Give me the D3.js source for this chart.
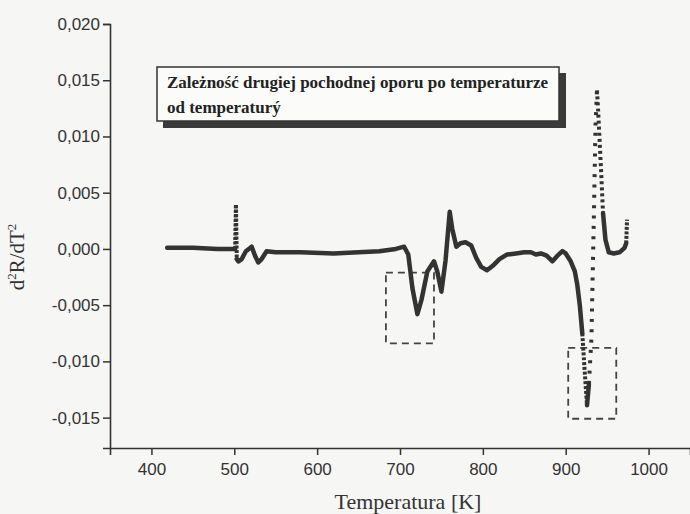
<!DOCTYPE html>
<html>
<head>
<meta charset="utf-8">
<script src="https://cdn.jsdelivr.net/npm/d3@7"></script>
<style>
  body { margin: 0; background: #f6f6f4; }
  svg { display: block; }
</style>
</head>
<body>
<div id="chart-area"></div>
<script>

// Set up size
width = 690;
height = 514

// Curve: temperature [K] and d2R/dT2
let temps = [419, 450, 480, 501, 502, 503, 505, 509, 514, 521, 525, 529, 533, 539,
  550, 580, 620, 650, 675, 695, 705, 710, 715, 721, 726, 733, 741, 745, 750,
  755, 760, 763, 768, 773, 779, 786, 792, 798, 805, 812, 820, 829, 840, 850,
  858, 864, 870, 877, 884, 890, 896, 900, 906, 911, 914, 917, 920, 923, 925.7,
  928, 931, 934, 936, 937.7, 939, 941, 943, 945, 948, 952, 958, 965, 971, 973, 974]
let values = [0.0001, 0.0001, 0.0000, 0.0000, 0.0039, -0.0009, -0.0011, -0.0009,
  -0.0002, 0.0002, -0.0006, -0.0012, -0.0009, -0.0002,
  -0.0003, -0.0003, -0.0004, -0.0003, -0.0002, 0.0000, 0.0002, -0.0005, -0.0035,
  -0.0058, -0.0045, -0.0020, -0.0011, -0.0020, -0.0038,
  -0.0010, 0.0033, 0.0018, 0.0002, 0.0005, 0.0006, 0.0003, -0.0008, -0.0016,
  -0.0019, -0.0015, -0.0009, -0.0005, -0.0004, -0.0003,
  -0.0003, -0.0005, -0.0004, -0.0006, -0.0011, -0.0006, -0.0002, -0.0004, -0.0011,
  -0.0020, -0.0032, -0.0050, -0.0075, -0.0110, -0.0139,
  -0.0120, -0.0080, 0.0030, 0.0110, 0.0141, 0.0125, 0.0095, 0.0065, 0.0032,
  0.0008, -0.0003, -0.0004, -0.0003, 0.0001, 0.0005, 0.0026]

// Ticks
let xTicks = [400, 500, 600, 700, 800, 900, 1000]
let xMinor = [350, 450, 550, 650, 750, 850, 950, 1050]
let yTicks = [-0.015, -0.010, -0.005, 0.000, 0.005, 0.010, 0.015, 0.020]
let yMinor = [-0.0125, -0.0075, -0.0025, 0.0025, 0.0075, 0.0125, 0.0175]

// Dashed frames around the two minima: [T from, T to, value top, value bottom]
let frames = [[683, 741, -0.0021, -0.0084], [903, 961, -0.0088, -0.0151]]

let titleLines = ["Zależność drugiej pochodnej oporu po temperaturze", "od temperaturý"]

let data = temps.map((t, i) => ({ t: t, v: values[i] }))

Draw(data)

function Draw(data) {

  let ink = "#333"

  let xScale = d3.scaleLinear().domain([350, 1050]).range([110, 690])
  let yScale = d3.scaleLinear().domain([-0.0177, 0.020]).range([448, 24])

  let fmt = v => (v < 0 ? "-" : "") + Math.abs(v).toFixed(3).replace(".", ",")

  svg = d3.select("#chart-area")
    .append("svg")
    .attr("width", width)
    .attr("height", height)

  // Title box with shadow
  svg.append("rect")
    .attr("x", 163).attr("y", 73)
    .attr("width", 403).attr("height", 55)
    .attr("fill", "#3a3a3a")
  svg.append("rect")
    .attr("x", 157).attr("y", 67)
    .attr("width", 402).attr("height", 54)
    .attr("fill", "#fbfbfa")
    .attr("stroke", ink)
    .attr("stroke-width", 1.5)
  svg.selectAll(".title")
    .data(titleLines)
    .enter().append("text")
    .attr("class", "title")
    .attr("x", 167)
    .attr("y", (d, i) => 88 + i * 25)
    .attr("font-family", "Liberation Serif, Times New Roman, serif")
    .attr("font-weight", "bold")
    .attr("font-size", 17)
    .attr("fill", "#222")
    .text(d => d)

  // Axes
  let xAxis = d3.axisBottom(xScale).tickValues(xTicks).tickSize(7).tickPadding(8).tickFormat(d3.format("d"))
  let xAxisMinor = d3.axisBottom(xScale).tickValues(xMinor).tickSize(4).tickFormat("")
  let yAxis = d3.axisLeft(yScale).tickValues(yTicks).tickSize(7).tickPadding(3).tickFormat(fmt)
  let yAxisMinor = d3.axisLeft(yScale).tickValues(yMinor).tickSize(4).tickFormat("")

  let gx = svg.append("g").attr("transform", "translate(0,448)")
  gx.call(xAxisMinor)
  gx.call(xAxis)
  let gy = svg.append("g").attr("transform", "translate(110,0)")
  gy.call(yAxisMinor)
  gy.call(yAxis)

  svg.selectAll(".domain").attr("stroke", ink).attr("stroke-width", 1.6)
  svg.selectAll(".tick line").attr("stroke", ink).attr("stroke-width", 1.5)
  svg.selectAll(".tick text")
    .attr("font-family", "Liberation Sans, Arial, sans-serif")
    .attr("font-size", 17)
    .attr("fill", "#333")

  // Dashed frames
  svg.selectAll(".frame")
    .data(frames)
    .enter().append("rect")
    .attr("class", "frame")
    .attr("x", d => xScale(d[0]))
    .attr("y", d => yScale(d[2]))
    .attr("width", d => xScale(d[1]) - xScale(d[0]))
    .attr("height", d => yScale(d[3]) - yScale(d[2]))
    .attr("fill", "none")
    .attr("stroke", "#444")
    .attr("stroke-width", 1.8)
    .attr("stroke-dasharray", "7,5")

  // Split the curve: flat parts solid, very steep parts dotted (sparse samples)
  let runs = []
  for (let i = 1; i < data.length; i++) {
    let a = data[i - 1], b = data[i]
    let dx = Math.abs(xScale(b.t) - xScale(a.t))
    let dy = yScale(b.v) - yScale(a.v)
    let steep = Math.abs(dy) / Math.max(dx, 0.01) > 12
    let dir = steep ? Math.sign(dy) : 0
    let last = runs[runs.length - 1]
    if (last && last.steep === steep && last.dir === dir) {
      last.pts.push(b)
    } else {
      runs.push({ steep: steep, dir: dir, pts: [a, b] })
    }
  }

  let line = d3.line().x(d => xScale(d.t)).y(d => yScale(d.v))

  runs.filter(r => !r.steep).forEach(r => {
    svg.append("path")
      .attr("d", line(r.pts))
      .attr("fill", "none")
      .attr("stroke", ink)
      .attr("stroke-width", 4.5)
      .attr("stroke-linejoin", "round")
      .attr("stroke-linecap", "round")
  })

  runs.filter(r => r.steep).forEach(r => {
    let len = 0
    for (let i = 1; i < r.pts.length; i++) {
      len += Math.hypot(xScale(r.pts[i].t) - xScale(r.pts[i - 1].t), yScale(r.pts[i].v) - yScale(r.pts[i - 1].v))
    }
    let gap = Math.max(1.5, Math.min(9, len / 40))
    svg.append("path")
      .attr("d", line(r.pts))
      .attr("fill", "none")
      .attr("stroke", ink)
      .attr("stroke-width", 4)
      .attr("stroke-dasharray", "3," + gap)
  })

  // Axis titles
  svg.append("text")
    .attr("x", 408)
    .attr("y", 509)
    .attr("text-anchor", "middle")
    .attr("font-family", "Liberation Serif, Times New Roman, serif")
    .attr("font-size", 22)
    .attr("fill", "#333")
    .text("Temperatura [K]")

  let yl = svg.append("text")
    .attr("transform", "translate(24,257) rotate(-90)")
    .attr("text-anchor", "middle")
    .attr("font-family", "Liberation Serif, Times New Roman, serif")
    .attr("font-size", 21)
    .attr("fill", "#333")
  yl.append("tspan").text("d")
  yl.append("tspan").attr("font-size", 13).attr("dy", -8).text("2")
  yl.append("tspan").attr("dy", 8).text("R/dT")
  yl.append("tspan").attr("font-size", 13).attr("dy", -8).text("2")
}

</script>
</body>
</html>
